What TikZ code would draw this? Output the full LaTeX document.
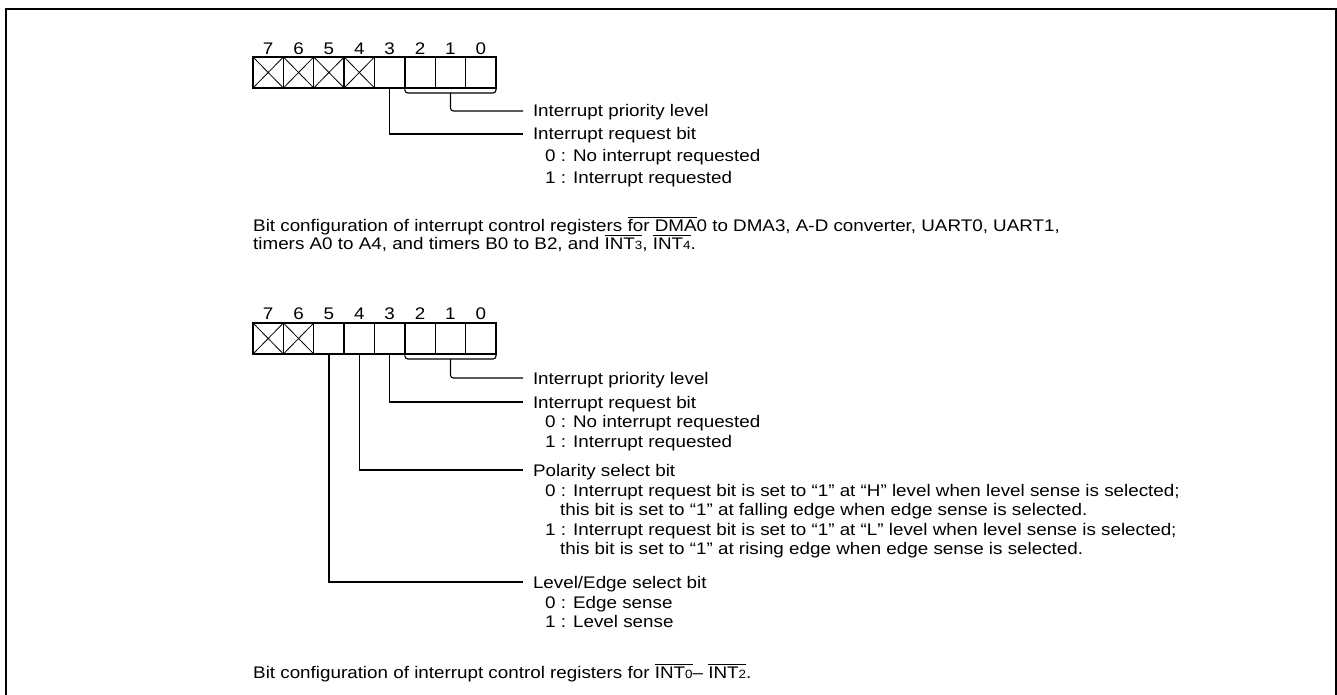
\documentclass[tikz,border=0pt]{standalone}
\usepackage{fontspec}
\setmainfont{Liberation Sans}[FakeStretch=1.12]
\usetikzlibrary{calc}
\newcommand\ovl[1]{\leavevmode\vbox{\hrule height 0.9pt\kern 1.3pt\hbox{#1}}}
\newcommand\smd[1]{{\fontsize{12}{12}\selectfont #1}}
\begin{document}
\begin{tikzpicture}[x=1pt,y=-1pt,
  font=\fontsize{16.8}{19}\selectfont,
  cell/.style={draw, line width=1.4pt, minimum width=30.4pt, minimum height=31pt, inner sep=0pt, outer sep=0pt},
  num/.style={inner sep=0pt},
  lbl/.style={anchor=west, inner sep=0pt, outer xsep=10pt, text height=12pt, text depth=0pt},
  sub/.style={anchor=west, inner sep=0pt, text height=12pt, text depth=0pt},
  wire/.style={line width=1.1pt},
  xcross/.style={line width=0.8pt}]
\useasboundingbox (0,0) rectangle (1337,695);
% frame
\draw[line width=2pt] (6,695) -- (6,9) -- (1336,9) -- (1336,695);

% ---------- register 1 ----------
\foreach \b [count=\i from 0] in {7,6,5,4,3,2,1,0} {
  \node[cell] (r1b\b) at ({268.2+30.375*\i},72.5) {};
  \node[num] (r1n\b) at ({268.2+30.375*\i},49) {\b};
}
\foreach \b in {7,6,5,4} {
  \draw[xcross] (r1b\b.north west) -- (r1b\b.south east) (r1b\b.north east) -- (r1b\b.south west);
}
\node[lbl] (r1pri) at (523,111) {Interrupt priority level};
\node[lbl] (r1req) at (523,134) {Interrupt request bit};
\node[sub] (r1q0) at (545,156) {0 : No interrupt requested};
\node[sub] (r1q1) at (545,177) {1 : Interrupt requested};
\draw[wire, rounded corners=3pt] (r1b2.south west) -- ++(0,5) -| (r1b0.south east);
\coordinate (r1mid) at ($(r1b2.south west)!0.5!(r1b0.south east)+(0,5)$);
\draw[wire, rounded corners=3pt] (r1mid) |- (r1pri.west);
\draw[wire] (r1b3.south) |- (r1req.west);

\node[sub] (cap1a) at (253,225) {Bit configuration of interrupt control registers \ovl{for DMA}0 to DMA3, A-D converter, UART0, UART1,};
\node[sub] (cap1b) at (253,243) {timers A0 to A4, and timers B0 to B2, and \ovl{INT\smd{3}}, \ovl{INT\smd{4}}.};

% ---------- register 2 ----------
\foreach \b [count=\i from 0] in {7,6,5,4,3,2,1,0} {
  \node[cell] (r2b\b) at ({268.2+30.375*\i},338.5) {};
  \node[num] (r2n\b) at ({268.2+30.375*\i},314) {\b};
}
\foreach \b in {7,6} {
  \draw[xcross] (r2b\b.north west) -- (r2b\b.south east) (r2b\b.north east) -- (r2b\b.south west);
}
\node[lbl] (r2pri) at (523,378) {Interrupt priority level};
\node[lbl] (r2req) at (523,402) {Interrupt request bit};
\node[sub] (r2q0) at (545,421) {0 : No interrupt requested};
\node[sub] (r2q1) at (545,441) {1 : Interrupt requested};
\node[lbl] (r2pol) at (523,470) {Polarity select bit};
\node[sub] (r2p0) at (545,490) {0 : Interrupt request bit is set to “1” at “H” level when level sense is selected;};
\node[sub] (r2p0b) at (560,509) {this bit is set to “1” at falling edge when edge sense is selected.};
\node[sub] (r2p1) at (545,529) {1 : Interrupt request bit is set to “1” at “L” level when level sense is selected;};
\node[sub] (r2p1b) at (560,548) {this bit is set to “1” at rising edge when edge sense is selected.};
\node[lbl] (r2lev) at (523,582) {Level/Edge select bit};
\node[sub] (r2l0) at (545,602) {0 : Edge sense};
\node[sub] (r2l1) at (545,621) {1 : Level sense};
\draw[wire, rounded corners=3pt] (r2b2.south west) -- ++(0,5) -| (r2b0.south east);
\coordinate (r2mid) at ($(r2b2.south west)!0.5!(r2b0.south east)+(0,5)$);
\draw[wire, rounded corners=3pt] (r2mid) |- (r2pri.west);
\draw[wire] (r2b3.south) |- (r2req.west);
\draw[wire] (r2b4.south) |- (r2pol.west);
\draw[wire] (r2b5.south) |- (r2lev.west);

\node[sub] (cap2) at (253,672) {Bit configuration of interrupt control registers for \ovl{INT\smd{0}}– \ovl{INT\smd{2}}.};
\end{tikzpicture}
\end{document}
